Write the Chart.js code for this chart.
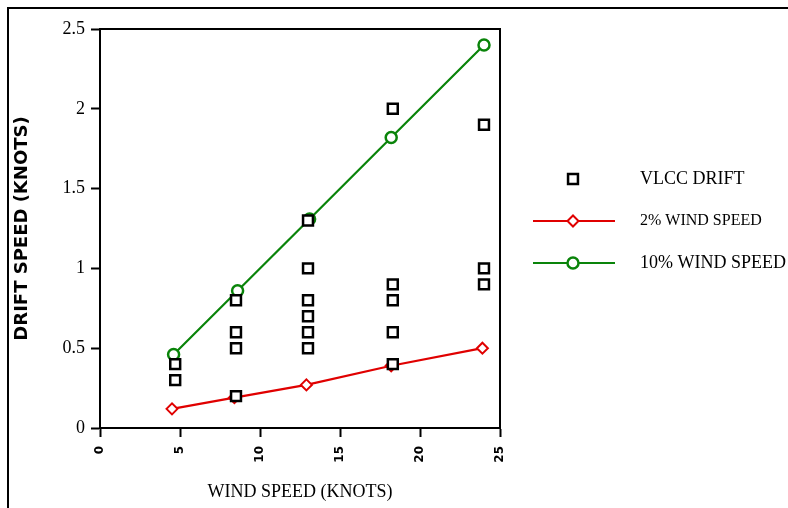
<!DOCTYPE html>
<html>
<head>
<meta charset="utf-8">
<title>VLCC drift vs wind speed</title>
<script src="https://cdn.jsdelivr.net/npm/chart.js@4/dist/chart.umd.min.js"></script>
<style>
    html, body { margin: 0; padding: 0; background: #ffffff; }
    #driftChart { display: block; }
</style>
</head>
<body>
<canvas id="driftChart" width="788" height="508"></canvas>
<script>
// Observed VLCC drift (knots) against wind speed (knots)
const vlccWind  = [4.7, 4.7, 8.5, 8.5, 8.5, 8.5, 13.0, 13.0, 13.0, 13.0, 13.0, 13.0, 18.3, 18.3, 18.3, 18.3, 18.3, 24.0, 24.0, 24.0];
const vlccDrift = [0.4, 0.3, 0.8, 0.6, 0.5, 0.2, 1.3, 1.0, 0.8, 0.7, 0.6, 0.5, 2.0, 0.9, 0.8, 0.6, 0.4, 1.9, 1.0, 0.9];

// 2% of wind speed line
const twoPctWind  = [4.5, 8.4, 12.9, 18.2, 23.9];
const twoPctDrift = [0.12, 0.19, 0.27, 0.39, 0.50];

// 10% of wind speed line
const tenPctWind  = [4.6, 8.6, 13.1, 18.2, 24.0];
const tenPctDrift = [0.46, 0.86, 1.31, 1.82, 2.40];

// Axis ticks
const xTicks = [0, 5, 10, 15, 20, 25];
const yTicks = [0, 0.5, 1, 1.5, 2, 2.5];

const seriesLabels = ['VLCC DRIFT', '2% WIND SPEED', '10% WIND SPEED'];
const xTitle = 'WIND SPEED (KNOTS)';
const yTitle = 'DRIFT SPEED (KNOTS)';

const toPoints = (xs, ys) => xs.map((x, i) => ({ x: x, y: ys[i] }));

/**
 * Frame round the page and box round the plot
 */
const framePlugin = {
    id: 'frame',
    afterDraw(chart) {
        const ctx = chart.ctx;
        const area = chart.chartArea;
        ctx.save();
        ctx.strokeStyle = '#000000';
        ctx.lineWidth = 2;
        ctx.beginPath();
        ctx.moveTo(8, chart.height);
        ctx.lineTo(8, 8);
        ctx.lineTo(chart.width, 8);
        ctx.stroke();

        ctx.beginPath();
        ctx.moveTo(area.left, area.top);
        ctx.lineTo(area.right, area.top);
        ctx.lineTo(area.right, area.bottom);
        ctx.stroke();
        ctx.restore();
    }
};

/**
 * Legend on the right, drawn from the dataset styles
 */
const sideLegendPlugin = {
    id: 'sideLegend',
    afterDraw(chart) {
        const ctx = chart.ctx;
        const rows = [
            { y: 179, font: '18px "Liberation Serif"', line: false },
            { y: 221, font: '16px "Liberation Serif"', line: true },
            { y: 263, font: '18px "Liberation Serif"', line: true }
        ];
        ctx.save();
        chart.data.datasets.forEach((ds, i) => {
            const row = rows[i];
            if (row.line) {
                ctx.strokeStyle = ds.borderColor;
                ctx.lineWidth = ds.borderWidth;
                ctx.beginPath();
                ctx.moveTo(533, row.y);
                ctx.lineTo(615, row.y);
                ctx.stroke();
            }
            ctx.strokeStyle = ds.pointBorderColor;
            ctx.fillStyle = ds.pointBackgroundColor;
            ctx.lineWidth = ds.pointBorderWidth;
            Chart.helpers.drawPoint(ctx, {
                pointStyle: ds.pointStyle,
                radius: ds.pointRadius,
                rotation: 0,
                borderWidth: ds.pointBorderWidth
            }, 573, row.y);

            ctx.fillStyle = '#000000';
            ctx.font = row.font;
            ctx.textAlign = 'left';
            ctx.textBaseline = 'middle';
            ctx.fillText(ds.label, 640, row.y);
        });
        ctx.restore();
    }
};

const ctx = document.getElementById('driftChart');

new Chart(ctx, {
    type: 'scatter',
    data: {
        datasets: [
            {
                label: seriesLabels[0],
                data: toPoints(vlccWind, vlccDrift),
                showLine: false,
                pointStyle: 'rect',
                pointRadius: 7,
                pointBorderWidth: 2.5,
                pointBorderColor: '#000000',
                pointBackgroundColor: '#ffffff'
            },
            {
                label: seriesLabels[1],
                data: toPoints(twoPctWind, twoPctDrift),
                showLine: true,
                borderColor: '#e00000',
                borderWidth: 2.2,
                pointStyle: 'rectRot',
                pointRadius: 5.5,
                pointBorderWidth: 2,
                pointBorderColor: '#e00000',
                pointBackgroundColor: '#ffffff'
            },
            {
                label: seriesLabels[2],
                data: toPoints(tenPctWind, tenPctDrift),
                showLine: true,
                borderColor: '#0a840a',
                borderWidth: 2.2,
                pointStyle: 'circle',
                pointRadius: 5.5,
                pointBorderWidth: 2.5,
                pointBorderColor: '#0a840a',
                pointBackgroundColor: '#ffffff'
            }
        ]
    },
    options: {
        responsive: false,
        animation: false,
        layout: {
            padding: { left: 0, top: 29, right: 288, bottom: 0 }
        },
        plugins: {
            legend: { display: false },
            tooltip: { enabled: false }
        },
        scales: {
            x: {
                type: 'linear',
                min: xTicks[0],
                max: xTicks[xTicks.length - 1],
                afterBuildTicks: (scale) => { scale.ticks = xTicks.map(v => ({ value: v })); },
                afterFit: (scale) => { scale.height = 80; },
                border: { display: true, color: '#000000', width: 2 },
                grid: {
                    drawOnChartArea: false,
                    drawTicks: true,
                    tickLength: 9,
                    tickWidth: 2,
                    tickColor: '#000000'
                },
                ticks: {
                    minRotation: 90,
                    maxRotation: 90,
                    padding: 9,
                    color: '#000000',
                    callback: (value) => String(value),
                    font: { family: 'DejaVu Sans', size: 12, weight: 'bold' }
                },
                title: {
                    display: true,
                    text: xTitle,
                    color: '#000000',
                    padding: { top: 0, bottom: 5 },
                    font: { family: 'Liberation Serif', size: 18 }
                }
            },
            y: {
                type: 'linear',
                min: yTicks[0],
                max: yTicks[yTicks.length - 1],
                afterBuildTicks: (scale) => { scale.ticks = yTicks.map(v => ({ value: v })); },
                afterFit: (scale) => { scale.width = 100; },
                border: { display: true, color: '#000000', width: 2 },
                grid: {
                    drawOnChartArea: false,
                    drawTicks: true,
                    tickLength: 9,
                    tickWidth: 2,
                    tickColor: '#000000'
                },
                ticks: {
                    padding: 6,
                    color: '#000000',
                    callback: (value) => String(value),
                    font: { family: 'Liberation Serif', size: 18 }
                },
                title: {
                    display: true,
                    text: yTitle,
                    color: '#000000',
                    padding: { top: 12, bottom: 0 },
                    font: { family: 'DejaVu Sans', size: 18, weight: 'bold' }
                }
            }
        }
    },
    plugins: [framePlugin, sideLegendPlugin]
});
</script>
</body>
</html>
